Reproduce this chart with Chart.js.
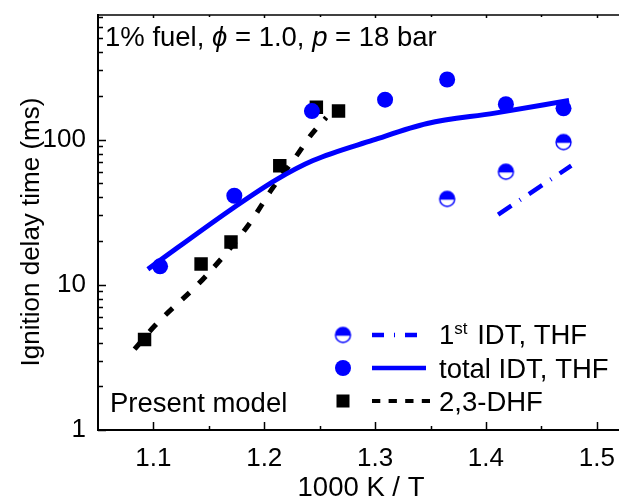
<!DOCTYPE html>
<html>
<head>
<meta charset="utf-8">
<script src="https://cdn.jsdelivr.net/npm/chart.js@4.4.0/dist/chart.umd.min.js"></script>
<style>
  html, body { margin: 0; padding: 0; background: #fff; overflow: hidden; }
  #chart { display: block; }
</style>
</head>
<body>
<canvas id="chart" width="629" height="499"></canvas>
<script>
// measured points (1000 K / T, ms)
const totalT = [1.106, 1.173, 1.243, 1.309, 1.365, 1.418, 1.470];
const totalIdt = [13.4, 41, 157, 188, 259, 175, 164];
const firstT = [1.365, 1.418, 1.470];
const firstIdt = [39, 60, 96];
const dhfT = [1.092, 1.143, 1.170, 1.214, 1.247, 1.267];
const dhfIdt = [4.2, 13.9, 19.7, 66, 167, 157];

// model curves
const totalModelT = [1.095, 1.172, 1.211, 1.244, 1.298, 1.347, 1.408, 1.475];
const totalModelIdt = [12.8, 33.8, 53, 71.7, 99, 129, 152, 186];
const firstModelT = [1.411, 1.477];
const firstModelIdt = [30.4, 66];
const dhfModelT = [1.083, 1.101, 1.147, 1.187, 1.207, 1.230, 1.242, 1.256];
const dhfModelIdt = [3.6, 5.2, 11.4, 26.6, 45.7, 79, 107, 142];

const xTicks = [1.1, 1.2, 1.3, 1.4, 1.5];
const xMinorTicks = [1.15, 1.25, 1.35, 1.45];
const yTicks = [1, 10, 100];

const FONT = '"Liberation Sans", Arial, sans-serif';
const FS = 27.5;
const TICK_FS = 26;
const BLUE = '#0000ff';

function pts(xs, ys) {
  return xs.map((v, i) => ({ x: v, y: ys[i] }));
}

// half filled circle marker
function halfCircle(r) {
  const c = document.createElement('canvas');
  const s = Math.ceil(r * 2 + 4);
  c.width = s; c.height = s;
  const g = c.getContext('2d');
  const m = s / 2;
  g.beginPath(); g.arc(m, m, r, 0, 2 * Math.PI); g.fillStyle = '#fff'; g.fill();
  g.beginPath(); g.arc(m, m, r, Math.PI - 0.1, 2 * Math.PI + 0.1); g.closePath();
  g.fillStyle = BLUE; g.fill();
  g.beginPath(); g.arc(m, m, r, 0, 2 * Math.PI); g.lineWidth = 1.4; g.strokeStyle = BLUE; g.stroke();
  return c;
}
const halfMark = halfCircle(7.5);

const extras = {
  id: 'extras',
  afterDraw(chart) {
    const { ctx, chartArea: a, scales: { x, y } } = chart;
    ctx.save();
    ctx.strokeStyle = '#000';

    // top frame
    ctx.lineWidth = 1.5;
    ctx.beginPath(); ctx.moveTo(a.left, a.top); ctx.lineTo(a.right, a.top); ctx.stroke();

    // inward ticks
    ctx.beginPath();
    xTicks.forEach(v => {
      const px = Math.round(x.getPixelForValue(v)) + 0.5;
      ctx.moveTo(px, a.bottom); ctx.lineTo(px, a.bottom - 8);
      ctx.moveTo(px, a.top); ctx.lineTo(px, a.top + 3);
    });
    xMinorTicks.forEach(v => {
      const px = Math.round(x.getPixelForValue(v)) + 0.5;
      ctx.moveTo(px, a.bottom); ctx.lineTo(px, a.bottom - 4);
      ctx.moveTo(px, a.top); ctx.lineTo(px, a.top + 2);
    });
    [1, 10, 100].forEach(d => {
      for (let k = 1; k <= 9; k++) {
        const v = d * k;
        if (v > y.max) break;
        const py = Math.round(y.getPixelForValue(v)) + 0.5;
        ctx.moveTo(a.left, py); ctx.lineTo(a.left + (k === 1 ? 8 : 5), py);
      }
    });
    ctx.stroke();

    ctx.fillStyle = '#000';
    ctx.textBaseline = 'alphabetic';

    // axis titles
    ctx.font = FS + 'px ' + FONT;
    ctx.textAlign = 'center';
    ctx.fillText('1000 K / T', 361, 496);
    ctx.save();
    ctx.translate(39, 232);
    ctx.rotate(-Math.PI / 2);
    ctx.font = TICK_FS + 'px ' + FONT;
    ctx.fillText('Ignition delay time (ms)', 0, 0);
    ctx.restore();

    // condition text
    ctx.textAlign = 'left';
    let tx = 105;
    const ty = 46;
    const parts = [['1% fuel, ', ''], ['\u03d5', 'italic '], [' = 1.0, ', ''], ['p', 'italic '], [' = 18 bar', '']];
    parts.forEach(([s, st]) => {
      ctx.font = st + FS + 'px ' + FONT;
      ctx.fillText(s, tx, ty);
      tx += ctx.measureText(s).width;
    });

    ctx.font = FS + 'px ' + FONT;
    ctx.fillText('Present model', 110, 412);

    // legend
    const mx = 343, lx0 = 372, lx1 = 426, txt = 439;
    const rows = [335, 368, 401];

    ctx.drawImage(halfMark, mx - halfMark.width / 2, rows[0] - halfMark.height / 2);
    ctx.beginPath(); ctx.arc(mx, rows[1], 8, 0, 2 * Math.PI); ctx.fillStyle = BLUE; ctx.fill();
    ctx.fillStyle = '#000'; ctx.fillRect(mx - 6.5, rows[2] - 6.5, 13, 13);

    ctx.lineWidth = 4.5;
    ctx.strokeStyle = BLUE;
    ctx.setLineDash([12, 10, 1, 10]);
    ctx.beginPath(); ctx.moveTo(lx0, rows[0]); ctx.lineTo(lx1, rows[0]); ctx.stroke();
    ctx.setLineDash([]);
    ctx.beginPath(); ctx.moveTo(lx0, rows[1]); ctx.lineTo(lx1, rows[1]); ctx.stroke();
    ctx.strokeStyle = '#000';
    ctx.lineWidth = 4;
    ctx.setLineDash([8.3, 8.3]);
    ctx.beginPath(); ctx.moveTo(lx0, rows[2]); ctx.lineTo(lx1 + 4, rows[2]); ctx.stroke();
    ctx.setLineDash([]);

    ctx.fillStyle = '#000';
    ctx.font = FS + 'px ' + FONT;
    let sx = txt;
    ctx.fillText('1', sx, rows[0] + 9);
    sx += ctx.measureText('1').width;
    ctx.font = '17px ' + FONT;
    ctx.fillText('st', sx, rows[0] - 1);
    sx += ctx.measureText('st').width + 2;
    ctx.font = FS + 'px ' + FONT;
    ctx.fillText(' IDT, THF', sx, rows[0] + 9);
    ctx.fillText('total IDT, THF', txt, rows[1] + 10);
    ctx.fillText('2,3-DHF', txt, rows[2] + 10);

    ctx.restore();
  }
};

const ctx = document.getElementById('chart').getContext('2d');
new Chart(ctx, {
  type: 'scatter',
  data: {
    datasets: [
      {
        label: 'total IDT, THF',
        data: pts(totalT, totalIdt),
        pointStyle: 'circle',
        pointRadius: 8,
        pointHoverRadius: 8,
        backgroundColor: BLUE,
        borderColor: BLUE,
        borderWidth: 0,
        order: 0
      },
      {
        label: '1st IDT, THF',
        data: pts(firstT, firstIdt),
        pointStyle: halfMark,
        order: 1
      },
      {
        label: '2,3-DHF',
        data: pts(dhfT, dhfIdt),
        pointStyle: 'rect',
        pointRadius: 9.5,
        pointHoverRadius: 9.5,
        backgroundColor: '#000',
        borderColor: '#000',
        borderWidth: 0,
        order: 3
      },
      {
        label: 'model total',
        data: pts(totalModelT, totalModelIdt),
        showLine: true,
        pointRadius: 0,
        borderColor: BLUE,
        borderWidth: 5,
        cubicInterpolationMode: 'monotone',
        order: 2
      },
      {
        label: 'model 1st',
        data: pts(firstModelT, firstModelIdt),
        showLine: true,
        pointRadius: 0,
        borderColor: BLUE,
        borderWidth: 4.5,
        borderDash: [16, 10, 1, 10],
        order: 2
      },
      {
        label: 'model DHF',
        data: pts(dhfModelT, dhfModelIdt),
        showLine: true,
        pointRadius: 0,
        borderColor: '#000',
        borderWidth: 5,
        borderDash: [10, 13],
        cubicInterpolationMode: 'monotone',
        order: 4
      }
    ]
  },
  options: {
    responsive: false,
    animation: false,
    layout: { padding: { top: 15, right: 0, left: 0, bottom: 0 } },
    plugins: {
      legend: { display: false },
      tooltip: { enabled: false }
    },
    scales: {
      x: {
        type: 'linear',
        min: 1.05,
        max: 1.5205,
        afterBuildTicks: s => { s.ticks = xTicks.map(v => ({ value: v })); },
        afterFit: s => { s.height = 69; s.paddingLeft = 0; s.paddingRight = 0; },
        ticks: {
          callback: v => v.toFixed(1),
          font: { family: FONT, size: TICK_FS },
          color: '#000',
          padding: 13,
          maxRotation: 0
        },
        grid: { display: false, drawTicks: false },
        border: { display: true, color: '#000', width: 2 }
      },
      y: {
        type: 'logarithmic',
        min: 1,
        max: 720,
        afterBuildTicks: s => { s.ticks = yTicks.map(v => ({ value: v })); },
        afterFit: s => { s.width = 98; s.paddingTop = 0; s.paddingBottom = 0; },
        ticks: {
          callback: v => String(v),
          font: { family: FONT, size: TICK_FS },
          color: '#000',
          padding: 12
        },
        grid: { display: false, drawTicks: false },
        border: { display: true, color: '#000', width: 2 }
      }
    }
  },
  plugins: [extras]
});
</script>
</body>
</html>
